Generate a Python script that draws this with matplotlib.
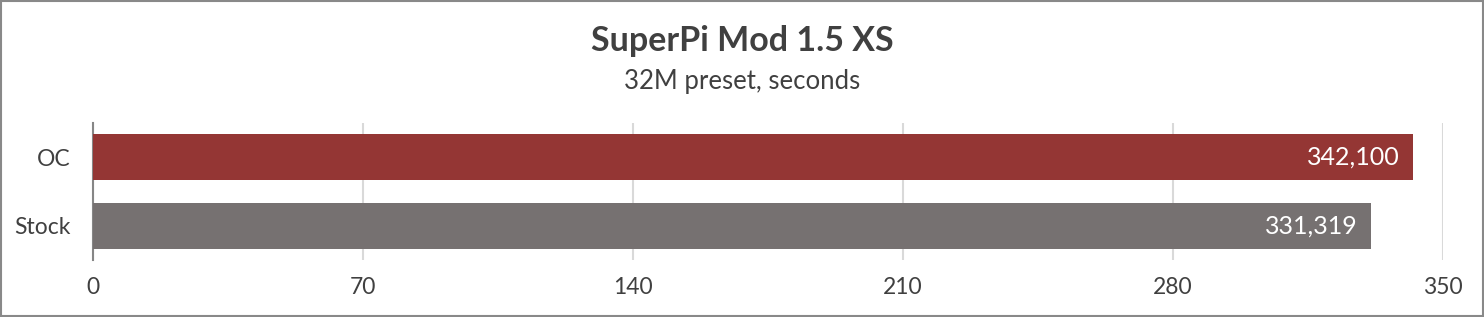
import matplotlib.pyplot as plt
from matplotlib.patches import Rectangle

categories = ["Stock", "OC"]
values = [331.319, 342.100]
colors = ["#767171", "#943634"]
x_ticks = [0, 70, 140, 210, 280, 350]

plt.rcParams['font.family'] = ['Lato', 'DejaVu Sans']
text_color = "#404040"

fig = plt.figure(figsize=(14.84, 3.17), dpi=100)
ax = fig.add_axes([93 / 1484, 1 - 260 / 317, 1350 / 1484, 137 / 317])

bars = ax.barh(categories, values, height=0.667, color=colors, zorder=3)
for bar, v in zip(bars, values):
    label = f"{v:.3f}".replace(".", ",")
    ax.text(bar.get_width() - 350 * 13 / 1350, bar.get_y() + bar.get_height() / 2, label,
            ha="right", va="center", color="white", fontsize=18, zorder=4)

ax.set_xlim(0, 350)
ax.set_ylim(-0.5, 1.5)
ax.set_xticks(x_ticks)
ax.xaxis.grid(True, color="#D9D9D9", linewidth=1.5, zorder=0)
ax.tick_params(axis="both", length=0, labelsize=16.5, colors=text_color)
ax.tick_params(axis="x", pad=12)
ax.tick_params(axis="y", pad=16.5)
for side in ["top", "right", "bottom"]:
    ax.spines[side].set_visible(False)
ax.spines["left"].set_color("#868686")
ax.spines["left"].set_linewidth(1.5)

fig.text(0.5, 1 - 51 / 317, "SuperPi Mod 1.5 XS", ha="center", va="baseline",
         fontsize=24.5, fontweight="bold", color=text_color)
fig.text(0.5, 1 - 89 / 317, "32M preset, seconds", ha="center", va="baseline",
         fontsize=18.5, color=text_color)

fig.patches.append(Rectangle((0.0005, 0.002), 0.999, 0.996, transform=fig.transFigure,
                             fill=False, edgecolor="#898989", linewidth=1.5))

fig.savefig("out.png", dpi=100)
